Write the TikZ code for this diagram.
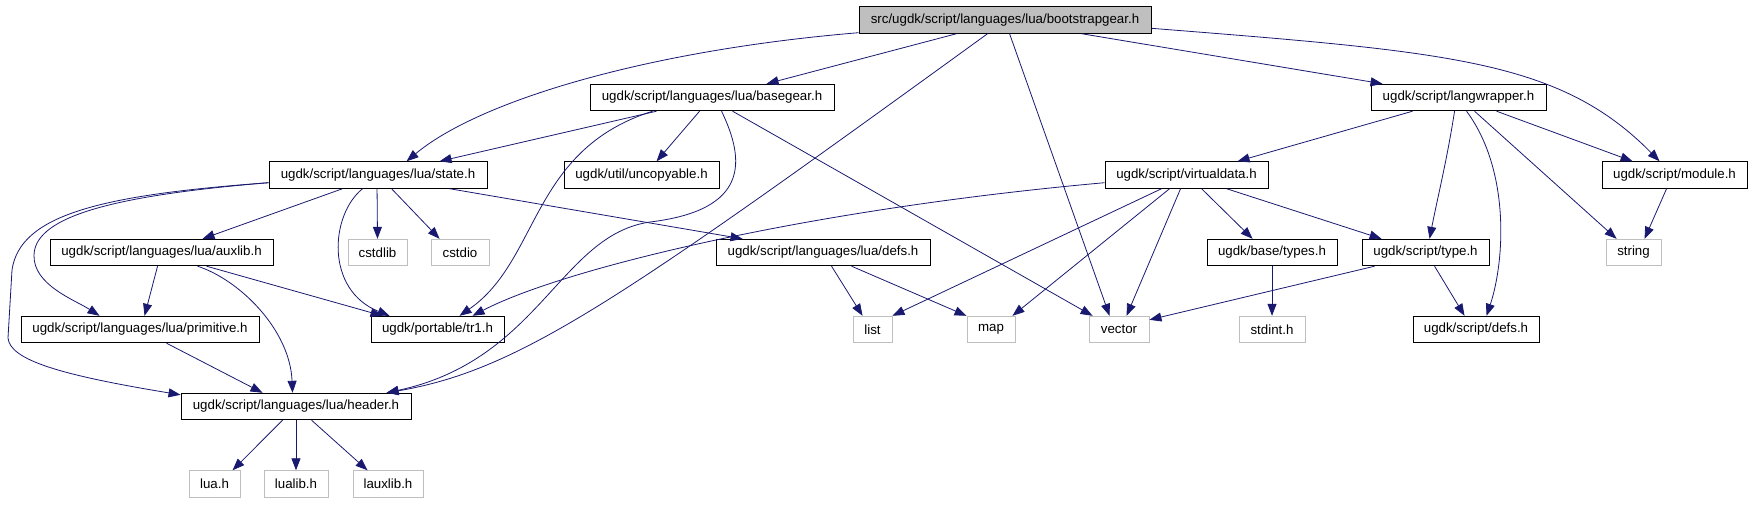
\documentclass[tikz,border=0pt]{standalone}
\usepackage{fontspec}
\setmainfont{Liberation Sans}
\usetikzlibrary{arrows.meta}
\definecolor{edgeblue}{HTML}{191970}
\definecolor{extgray}{HTML}{BFBFBF}
\begin{document}
\begin{tikzpicture}[x=1pt,y=-1pt,
  box/.style={draw=black, line width=0.9pt, rectangle, inner sep=0pt, minimum height=26.5pt, font=\fontsize{13.3}{16}\selectfont, text=black},
  ext/.style={box, draw=extgray},
  rootbox/.style={box, fill=extgray},
  dep/.style={draw=edgeblue, line width=0.8pt, -{Triangle[length=12pt,width=9pt]}}]
\useasboundingbox (0,0) rectangle (1752,504);
% nodes
\node[rootbox, minimum width=292pt] (root) at (1005,20) {src/ugdk/script/languages/lua/bootstrapgear.h};
\node[box, minimum width=244pt] (basegear) at (712,97.5) {ugdk/script/languages/lua/basegear.h};
\node[box, minimum width=175pt] (langwrapper) at (1458.5,97.5) {ugdk/script/langwrapper.h};
\node[box, minimum width=218pt] (state) at (378,175) {ugdk/script/languages/lua/state.h};
\node[box, minimum width=155pt] (uncopyable) at (641.5,175) {ugdk/util/uncopyable.h};
\node[box, minimum width=163pt] (virtualdata) at (1186.5,175) {ugdk/script/virtualdata.h};
\node[box, minimum width=145pt] (module) at (1674.5,175) {ugdk/script/module.h};
\node[box, minimum width=223pt] (auxlib) at (161.5,252.5) {ugdk/script/languages/lua/auxlib.h};
\node[ext, minimum width=59pt] (cstdlib) at (377.5,252.5) {cstdlib};
\node[ext, minimum width=58pt] (cstdio) at (460,252.5) {cstdio};
\node[box, minimum width=214pt] (defslua) at (823,252.5) {ugdk/script/languages/lua/defs.h};
\node[box, minimum width=130pt] (types) at (1272,252.5) {ugdk/base/types.h};
\node[box, minimum width=127pt] (type) at (1425.5,252.5) {ugdk/script/type.h};
\node[ext, minimum width=55pt] (string) at (1633.5,252.5) {string};
\node[box, minimum width=238pt] (primitive) at (140,329.5) {ugdk/script/languages/lua/primitive.h};
\node[box, minimum width=133pt] (tr1) at (437.5,329.5) {ugdk/portable/tr1.h};
\node[ext, minimum width=39pt] (list) at (872.5,329.5) {list};
\node[ext, minimum width=48pt] (map) at (991,329.5) {map};
\node[ext, minimum width=60pt] (vector) at (1119,329.5) {vector};
\node[ext, minimum width=66pt] (stdint) at (1272,329.5) {stdint.h};
\node[box, minimum width=126pt] (sdefs) at (1476,329.5) {ugdk/script/defs.h};
\node[box, minimum width=230pt] (header) at (296,406.5) {ugdk/script/languages/lua/header.h};
\node[ext, minimum width=51pt] (luah) at (214.5,484) {lua.h};
\node[ext, minimum width=64pt] (lualib) at (296,484) {lualib.h};
\node[ext, minimum width=70pt] (lauxlib) at (388,484) {lauxlib.h};
% root edges
\draw[dep] ([yshift=1pt]root.south west) .. controls (650,50) and (480,100) .. ([xshift=138pt]state.north west);
\draw[dep] ([xshift=98pt]root.south west) -- ([xshift=177pt]basegear.north west);
\draw[dep] ([xshift=129pt]root.south west) .. controls (620,300) and (520,370) .. ([xshift=206pt]header.north west);
\draw[dep] ([xshift=151pt]root.south west) -- ([xshift=21pt]vector.north west);
\draw[dep] ([xshift=223pt]root.south west) -- ([xshift=12pt]langwrapper.north west);
\draw[dep] ([yshift=-22pt]root.north east) .. controls (1450,52) and (1560,60) .. ([xshift=58pt]module.north west);
% basegear edges
\draw[dep] ([xshift=67pt]basegear.south west) -- ([xshift=171pt]state.north west);
\draw[dep] ([xshift=110pt]basegear.south west) -- ([xshift=93pt]uncopyable.north west);
\draw[dep] ([xshift=63pt]basegear.south west) .. controls (530,150) and (540,260) .. ([xshift=89pt]tr1.north west);
\draw[dep] ([xshift=132pt]basegear.south west) .. controls (745,160) and (750,210) .. (650,222) .. controls (560,235) and (540,360) .. ([xshift=206pt]header.north west);
\draw[dep] ([xshift=143pt]basegear.south west) -- ([xshift=4pt]vector.north west);
% state edges
\draw[dep] ([xshift=74pt]state.south west) -- ([xshift=153pt]auxlib.north west);
\draw[dep] ([xshift=108.5pt]state.south west) -- (cstdlib.north);
\draw[dep] ([xshift=123pt]state.south west) -- ([xshift=9pt]cstdio.north west);
\draw[dep] ([xshift=94pt]state.south west) .. controls (330,215) and (325,290) .. ([xshift=19pt]tr1.north west);
\draw[dep] ([xshift=181pt]state.south west) -- ([xshift=27pt]defslua.north west);
\draw[dep] ([yshift=6pt]state.south west) .. controls (120,195) and (35,215) .. (34,255) .. controls (33,285) and (75,300) .. ([xshift=79pt]primitive.north west);
\draw[dep] ([yshift=6pt]state.south west) .. controls (100,195) and (20,215) .. (12,270) -- (8,338) .. controls (10,360) and (60,375) .. ([yshift=-2pt]header.north west);
% auxlib edges
\draw[dep] ([xshift=108pt]auxlib.south west) -- ([xshift=124pt]primitive.north west);
\draw[dep] ([xshift=157pt]auxlib.south west) -- ([xshift=12pt]tr1.north west);
\draw[dep] ([xshift=148pt]auxlib.south west) .. controls (240,280) and (290,330) .. ([xshift=112pt]header.north west);
% primitive
\draw[dep] ([xshift=146pt]primitive.south west) -- ([xshift=82pt]header.north west);
% header
\draw[dep] ([xshift=102pt]header.south west) -- ([xshift=44pt]luah.north west);
\draw[dep] (header.south) -- (lualib.north);
\draw[dep] ([xshift=131pt]header.south west) -- ([xshift=15pt]lauxlib.north west);
% defs lua
\draw[dep] ([xshift=116pt]defslua.south west) -- ([xshift=10pt]list.north west);
\draw[dep] ([xshift=136pt]defslua.south west) -- (map.north west);
% virtualdata
\draw[dep] ([yshift=6pt]virtualdata.south west) .. controls (800,210) and (560,270) .. ([xshift=102pt]tr1.north west);
\draw[dep] ([xshift=57pt]virtualdata.south west) -- (list.north east);
\draw[dep] ([xshift=65pt]virtualdata.south west) -- ([xshift=-3pt]map.north east);
\draw[dep] ([xshift=76pt]virtualdata.south west) -- ([xshift=38pt]vector.north west);
\draw[dep] ([xshift=97pt]virtualdata.south west) -- ([xshift=46pt]types.north west);
\draw[dep] ([xshift=122pt]virtualdata.south west) -- ([xshift=20pt]type.north west);
% langwrapper
\draw[dep] ([xshift=42pt]langwrapper.south west) -- ([xshift=133pt]virtualdata.north west);
\draw[dep] ([xshift=84pt]langwrapper.south west) .. controls (1447,160) and (1437,200) .. ([xshift=68pt]type.north west);
\draw[dep] ([xshift=96pt]langwrapper.south west) .. controls (1510,170) and (1505,260) .. ([xshift=74pt]sdefs.north west);
\draw[dep] ([xshift=104pt]langwrapper.south west) -- ([xshift=11pt]string.north west);
\draw[dep] ([xshift=126pt]langwrapper.south west) -- ([xshift=31pt]module.north west);
% type
\draw[dep] ([xshift=13pt]type.south west) -- ([yshift=-4pt]vector.north east);
\draw[dep] ([xshift=73pt]type.south west) -- ([xshift=52pt]sdefs.north west);
% types, module
\draw[dep] (types.south) -- (stdint.north);
\draw[dep] ([xshift=65pt]module.south west) -- ([xshift=39pt]string.north west);
\end{tikzpicture}
\end{document}
